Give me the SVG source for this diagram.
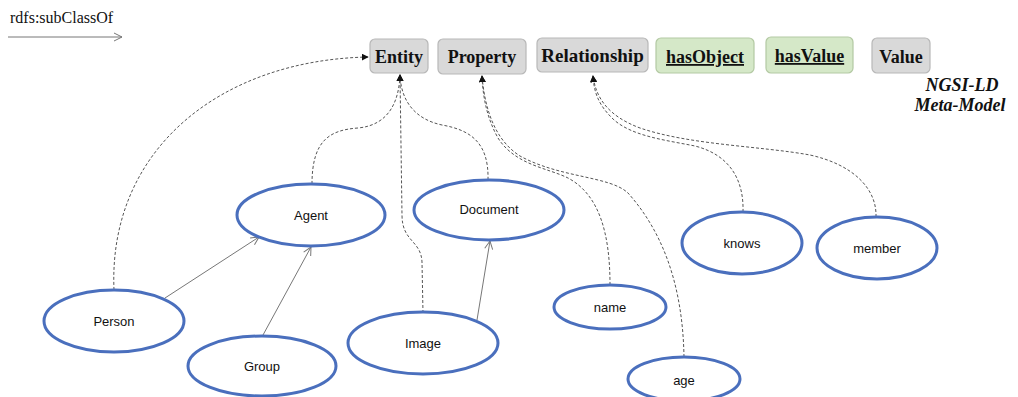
<svg xmlns="http://www.w3.org/2000/svg" width="1018" height="397" viewBox="0 0 1018 397">
  <style>
    .meta rect { fill: #d9d9d9; stroke: #b8b8b8; stroke-width: 1.2; }
    .meta.green rect { fill: #d5e8c8; stroke: #b3c9a3; }
    .meta text { font-family: "Liberation Serif", "Times New Roman", serif; font-weight: bold; font-size: 18px; fill: #111; text-anchor: middle; }
    .meta.green text { text-decoration: underline; }
    .cls ellipse { fill: #fff; stroke: #4a6fbd; stroke-width: 3; }
    .cls text { font-family: "Liberation Sans", Arial, sans-serif; font-size: 13px; fill: #111; text-anchor: middle; }
    .dash { fill: none; stroke: #555; stroke-width: 1; stroke-dasharray: 3 2; }
    .sub { fill: none; stroke: #777; stroke-width: 1; marker-end: url(#open); }
    .title { font-family: "Liberation Serif", "Times New Roman", serif; font-weight: bold; font-style: italic; font-size: 18px; fill: #111; text-anchor: middle; }
  </style>
  <defs>
    <marker id="solid" viewBox="0 0 10 10" refX="9" refY="5" markerWidth="7" markerHeight="7" orient="auto" markerUnits="userSpaceOnUse">
      <path d="M0,0 L10,5 L0,10 z" fill="#111"/>
    </marker>
    <marker id="open" viewBox="0 0 10 10" refX="9" refY="5" markerWidth="10" markerHeight="10" orient="auto" markerUnits="userSpaceOnUse">
      <path d="M1,1 L9,5 L1,9" fill="none" stroke="#777" stroke-width="1"/>
    </marker>
  </defs>

  <!-- legend -->
  <g id="legend">
    <text x="10" y="23" font-family="Liberation Serif, Times New Roman, serif" font-size="16" fill="#111">rdfs:subClassOf</text>
    <line x1="8" y1="37" x2="122" y2="37" class="sub"/>
  </g>

  <!-- meta-model terms -->
  <g id="entity" class="meta"><rect x="370" y="39" width="58" height="34" rx="5"/><text x="399" y="63">Entity</text></g>
  <g id="property" class="meta"><rect x="438" y="39" width="88" height="35" rx="5"/><text x="482" y="63">Property</text></g>
  <g id="relationship" class="meta"><rect x="537" y="38" width="111" height="34" rx="5"/><text x="592.5" y="62" style="font-size:19px">Relationship</text></g>
  <g id="hasObject" class="meta green"><rect x="656" y="38" width="98" height="35" rx="5"/><text x="705" y="63">hasObject</text></g>
  <g id="hasValue" class="meta green"><rect x="766" y="37" width="87" height="36" rx="5"/><text x="809.5" y="62">hasValue</text></g>
  <g id="value" class="meta"><rect x="872" y="38" width="58" height="35" rx="5"/><text x="901" y="63">Value</text></g>

  <g id="meta-title">
    <text class="title" x="962" y="91">NGSI-LD</text>
    <text class="title" x="960" y="111">Meta-Model</text>
  </g>

  <!-- connectors -->
  <g id="connectors">
    <!-- subclasses of Entity -->
    <path class="dash" d="M114,290 C108,150 220,60 368,57" marker-end="url(#solid)"/>
    <path class="dash" d="M312,184 C312,140 330,130 358,128 C390,125 399,100 400,75" marker-end="url(#solid)"/>
    <path class="dash" d="M423,313 L422,262 C421,240 402,242 402,215 L400,75" marker-end="url(#solid)"/>
    <path class="dash" d="M488,180 C489,142 470,130 442,125 C414,119 401,100 400,75" marker-end="url(#solid)"/>
    <!-- properties -->
    <path class="dash" d="M610,285 C610,235 600,195 568,178 C548,168 515,165 498,138 C488,120 483,100 482,76" marker-end="url(#solid)"/>
    <path class="dash" d="M684,357 C683,300 670,240 628,193 C610,176 560,178 520,156 C495,140 485,110 482,76" marker-end="url(#solid)"/>
    <!-- relationships -->
    <path class="dash" d="M743,212 C744,180 730,155 695,146 C665,140 630,136 612,118 C598,104 594,92 593,76" marker-end="url(#solid)"/>
    <path class="dash" d="M876,217 C877,190 855,165 810,155 C760,146 690,145 640,128 C608,116 596,98 593,76" marker-end="url(#solid)"/>
    <!-- rdfs:subClassOf between classes -->
    <line class="sub" x1="165" y1="298" x2="259" y2="237"/>
    <line class="sub" x1="263" y1="335" x2="311" y2="247"/>
    <line class="sub" x1="477" y1="320" x2="490" y2="241"/>
  </g>

  <!-- classes -->
  <g id="agent" class="cls"><ellipse cx="311" cy="215" rx="74" ry="31"/><text x="311" y="220">Agent</text></g>
  <g id="person" class="cls"><ellipse cx="114" cy="321" rx="70" ry="31"/><text x="114" y="326">Person</text></g>
  <g id="group" class="cls"><ellipse cx="262" cy="366" rx="74" ry="30"/><text x="262" y="371">Group</text></g>
  <g id="document" class="cls"><ellipse cx="489" cy="210" rx="75" ry="30"/><text x="489" y="214">Document</text></g>
  <g id="image" class="cls"><ellipse cx="423" cy="343" rx="75" ry="31"/><text x="423" y="348">Image</text></g>
  <g id="name" class="cls"><ellipse cx="610" cy="307" rx="56" ry="22"/><text x="610" y="312">name</text></g>
  <g id="age" class="cls"><ellipse cx="684" cy="379" rx="56" ry="22"/><text x="684" y="385">age</text></g>
  <g id="knows" class="cls"><ellipse cx="742" cy="243" rx="60" ry="31"/><text x="742" y="248">knows</text></g>
  <g id="member" class="cls"><ellipse cx="877" cy="248" rx="60" ry="31"/><text x="877" y="253">member</text></g>
</svg>
